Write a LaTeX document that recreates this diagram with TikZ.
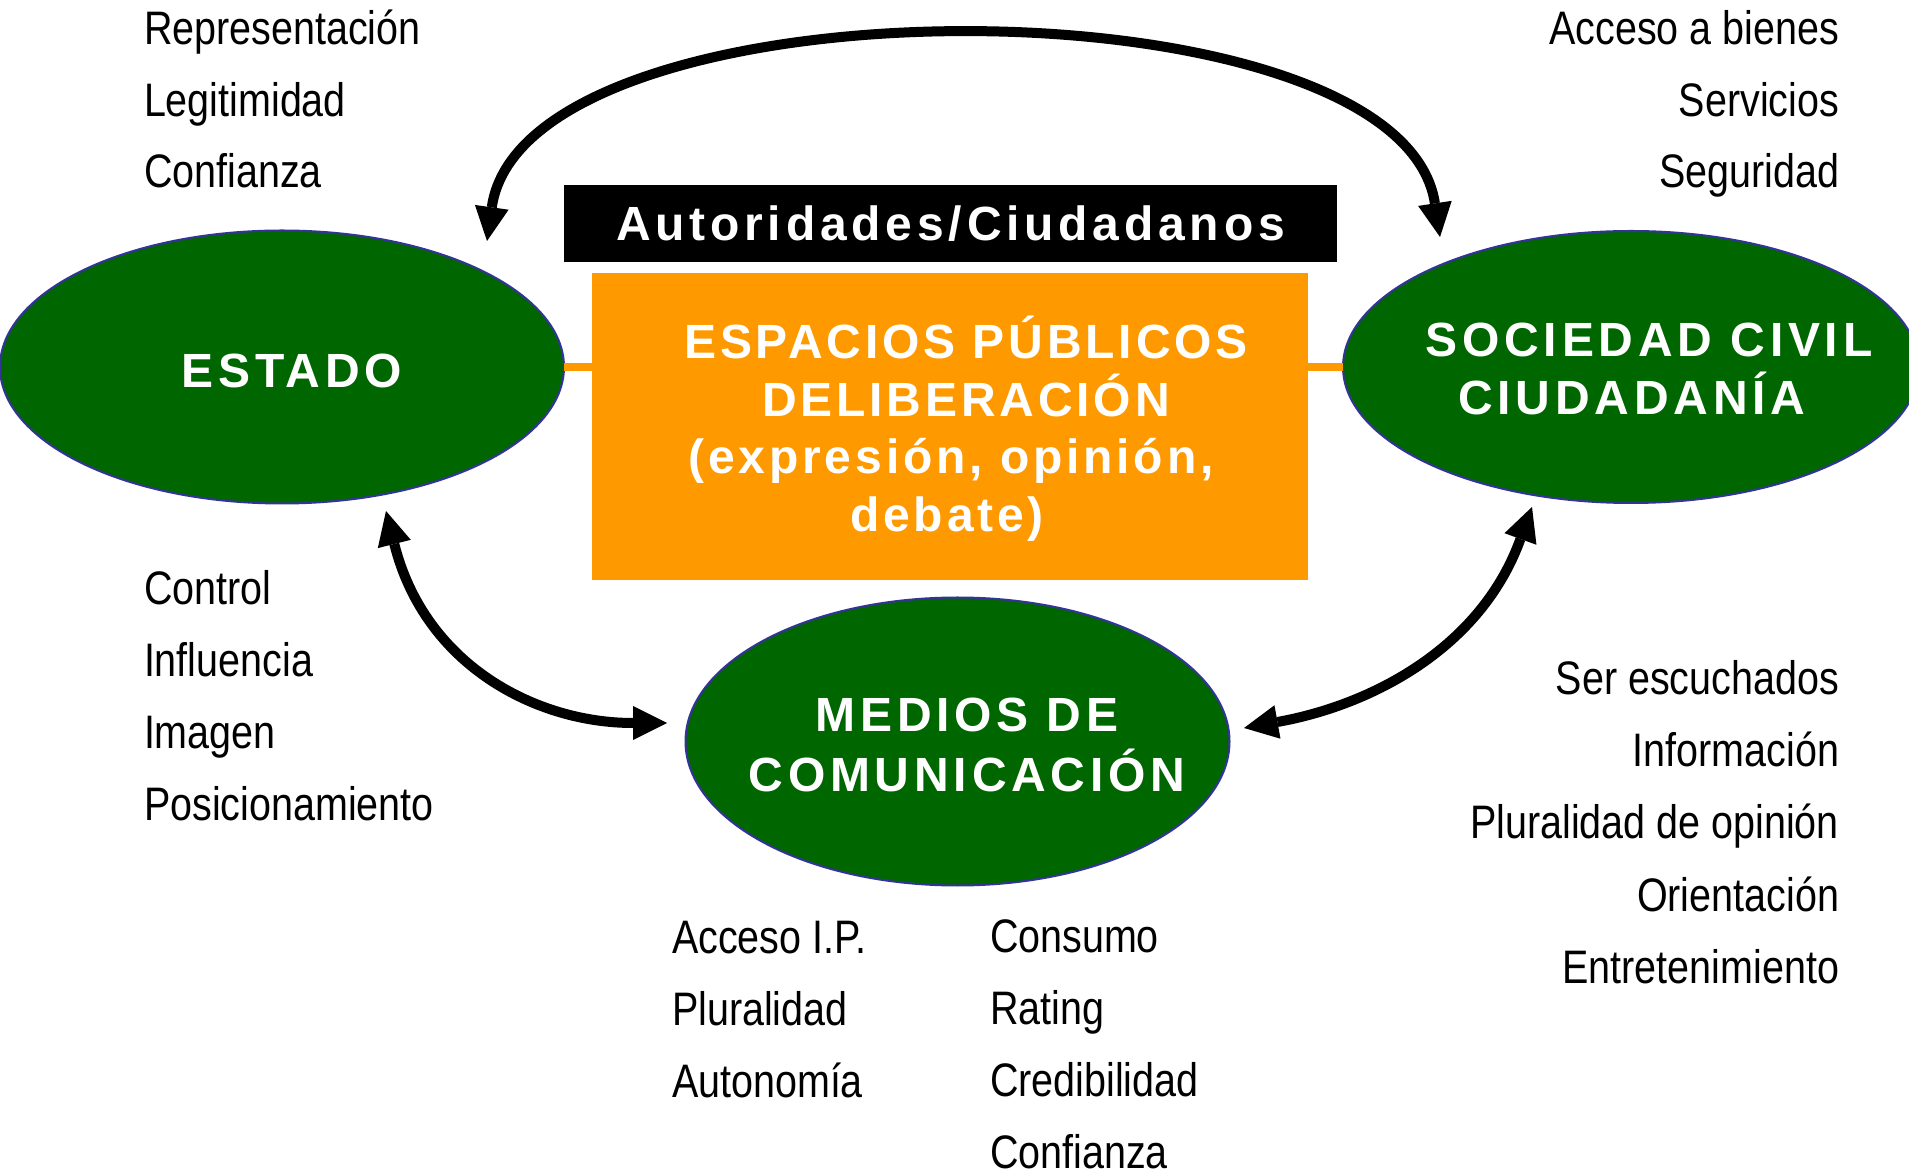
\documentclass[tikz,border=0pt]{standalone}
\usepackage{fontspec}
\setmainfont{Liberation Sans}
\newfontfamily\narrowfont[FakeStretch=0.84]{Liberation Sans}
\newfontfamily\spacedbold[LetterSpace=8]{Liberation Sans}
\newfontfamily\actorbold[LetterSpace=10]{Liberation Sans}
\newfontfamily\widebold[LetterSpace=10]{Liberation Sans}
\usetikzlibrary{shapes.geometric, arrows.meta}
\definecolor{dgreen}{HTML}{006600}
\definecolor{orng}{HTML}{FF9900}
\definecolor{edgeblue}{HTML}{333399}
\begin{document}
\begin{tikzpicture}[x=1pt,y=1pt,
  every node/.style={inner sep=0pt, outer sep=0pt},
  actor/.style={ellipse, fill=dgreen, draw=edgeblue, line width=2pt},
  actortxt/.style={anchor=base, text=white, font=\actorbold\bfseries\fontsize{48}{58}\selectfont},
  item/.style={font=\narrowfont\fontsize{47}{56}\selectfont, text=black},
  bigarrow/.style={line width=10pt,
    {Triangle[length=34pt,width=34pt,line width=0pt]}-{Triangle[length=34pt,width=34pt,line width=0pt]}},
  link/.style={draw=orng, line width=8pt},
  spacetxt/.style={anchor=base, text=white, font=\spacedbold\bfseries\fontsize{48}{58}\selectfont},
  titlebox/.style={fill=black, text=white, minimum width=773pt, minimum height=77pt,
    font=\widebold\bfseries\fontsize{48}{50}\selectfont},
  spacebox/.style={fill=orng, minimum width=716pt, minimum height=307pt}
]
\path[fill=white, use as bounding box] (0,0) rectangle (1909,1171);

% central boxes
\node[titlebox] (autoridades) at (950.5,947.5) {Autoridades/Ciudadanos};
\node[spacebox] (espacios) at (950,744.5) {};
\node[spacetxt] (esp1) at (966,812) {ESPACIOS PÚBLICOS};
\node[spacetxt] (esp2) at (966,754) {DELIBERACIÓN};
\node[spacetxt] (esp3) at (951,697) {(expresión, opinión,};
\node[spacetxt] (esp4) at (947,639) {debate)};

% actors
\node[actor, minimum width=564pt, minimum height=273pt] (estado) at (282,804) {};
\node[actor, minimum width=576pt, minimum height=272pt] (sociedad) at (1631,804) {};
\node[actor, minimum width=544pt, minimum height=288pt] (medios) at (957.5,429.5) {};
\node[actortxt] (estadotxt) at (292,783) {ESTADO};
\node[actortxt] (soctxt1) at (1649,814) {SOCIEDAD CIVIL};
\node[actortxt] (soctxt2) at (1632,756) {CIUDADANÍA};
\node[actortxt] (medtxt1) at (967,439) {MEDIOS DE};
\node[actortxt] (medtxt2) at (967,379) {COMUNICACIÓN};

% orange links
\draw[link] (estado.east) -- (espacios.west |- estado.east);
\draw[link] (espacios.east |- sociedad.west) -- (sociedad.west);

% arrows
\coordinate (tA) at (487,930);
\coordinate (tB) at (1440,934);
\coordinate (lA) at (386,660);
\coordinate (lB) at (667,448);
\coordinate (rA) at (1244,443);
\coordinate (rB) at (1532,664);
\draw[bigarrow] (tA) .. controls +(38,268) and +(-40,264) .. (tB);
\draw[bigarrow] (lA) .. controls +(39,-155) and +(-130,0) .. (lB);
\draw[bigarrow] (rA) .. controls +(128,23) and +(-51,-141) .. (rB);

% lists
\foreach \t [count=\i from 0] in {Representación,Legitimidad,Confianza}
  \node[item, anchor=base west] (tl\i) at (144,{1126-71.5*\i}) {\t};
\foreach \t [count=\i from 0] in {Control,Influencia,Imagen,Posicionamiento}
  \node[item, anchor=base west] (ll\i) at (144,{566-71.7*\i}) {\t};
\foreach \t [count=\i from 0] in {Acceso a bienes,Servicios,Seguridad}
  \node[item, anchor=base east] (tr\i) at (1839,{1126-71.5*\i}) {\t};
\foreach \t [count=\i from 0] in {Ser escuchados,Información,Pluralidad de opinión,Orientación,Entretenimiento}
  \node[item, anchor=base east] (lr\i) at (1839,{476-72*\i}) {\t};
\foreach \t [count=\i from 0] in {Acceso I.P.,Pluralidad,Autonomía}
  \node[item, anchor=base west] (bl\i) at (672,{218-72*\i}) {\t};
\foreach \t [count=\i from 0] in {Consumo,Rating,Credibilidad,Confianza}
  \node[item, anchor=base west] (br\i) at (990,{219-72*\i}) {\t};
\end{tikzpicture}
\end{document}
